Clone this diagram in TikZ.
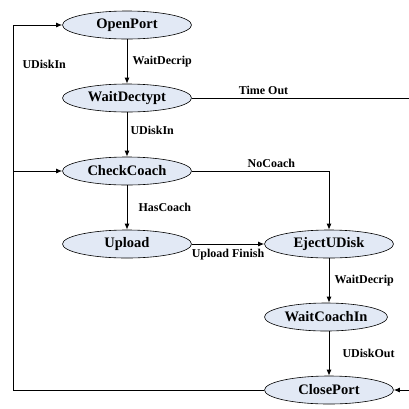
\documentclass[tikz,border=0pt]{standalone}
\usepackage{fontspec}
\setmainfont{Liberation Serif}
\usetikzlibrary{shapes.geometric,arrows.meta}
\definecolor{statefill}{RGB}{226,233,245}
\begin{document}
\begin{tikzpicture}[
		x = 1pt, y = -1pt,
		every node/.style = {
			font = \bfseries\fontsize{12}{14}\selectfont
		},
		state/.style = {
			draw = black,
			fill = statefill,
			ellipse,
			line width = 0.6pt,
			minimum width = 129pt,
			minimum height = 28pt,
			inner sep = 0pt,
			font = \bfseries\fontsize{14.5}{16}\selectfont
		},
		link/.style = {
			line width = 1pt
		},
		trans/.style = {
			link,
			-{Latex[length = 6pt, width = 5pt]}
		}]
	\useasboundingbox (0, 0) rectangle (409, 408);
	% states
	\node[state] (open) at (127, 25) {OpenPort};
	\node[state] (dectypt) at (127, 98) {WaitDectypt};
	\node[state] (check) at (127, 171) {CheckCoach};
	\node[state] (upload) at (127, 244) {Upload};
	\node[state] (eject) at (329, 244) {EjectUDisk};
	\node[state, minimum width = 123pt] (coachin) at (326, 317) {WaitCoachIn};
	\node[state] (close) at (329, 390) {ClosePort};
	% free ends
	\coordinate (loopBottom) at (13, 390);
	\coordinate (loopMid) at (13, 171);
	\coordinate (timeOutEnd) at (409, 98);
	\coordinate (returnIn) at (409, 390);
	% transitions
	\draw[trans] (open) -- node[right, inner sep = 5pt] {WaitDecrip} (dectypt);
	\draw[trans] (dectypt) -- node[right, pos = 0.4, inner sep = 3pt] {UDiskIn} (check);
	\draw[trans] (check) -- node[right, inner sep = 11pt] {HasCoach} (upload);
	\draw[trans] (upload) -- node[below, inner sep = 5pt] {Upload Finish} (eject);
	\draw[trans] (check.east) -| node[above, pos = 0.29, inner sep = 3pt] {NoCoach} (eject.north);
	\draw[trans] (eject) -- node[right, inner sep = 5pt] {WaitDecrip} (coachin.north -| eject.south);
	\draw[trans] (coachin.south -| close.north) -- node[right, inner sep = 13pt] {UDiskOut} (close);
	\draw[link] (dectypt.east) -- node[above, pos = 0.33, inner sep = 3pt] {Time Out} (timeOutEnd);
	\draw[trans] (close.west) -- (loopBottom) |- (open.west);
	\draw[trans] (loopMid) -- (check.west);
	\draw[trans] (returnIn) -- (close.east);
	\node[anchor = west] (udiskin) at (19, 64) {UDiskIn};
\end{tikzpicture}
\end{document}
